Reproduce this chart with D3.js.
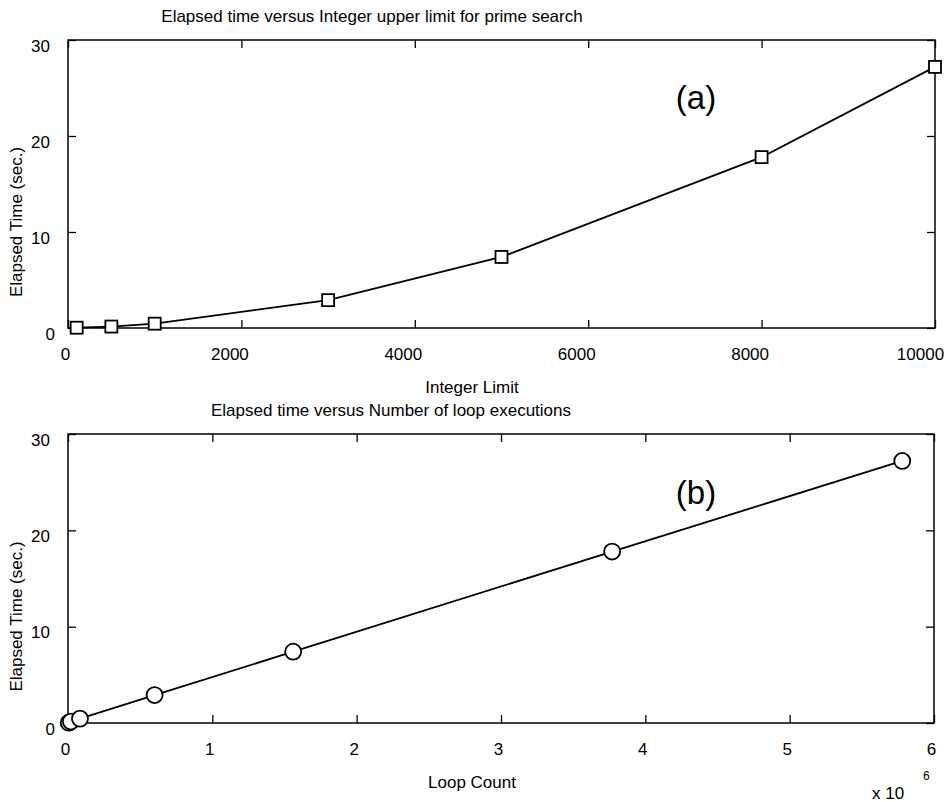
<!DOCTYPE html>
<html lang="en">
<head>
    <title>Elapsed time</title>
    <script src="https://d3js.org/d3.v7.min.js"></script>
    <style>
        body {
            margin: 0;
            background: #fff;
        }

        svg text {
            font-family: "Liberation Sans", Arial, sans-serif;
            fill: #000;
        }

        .frame {
            fill: none;
            stroke: #000;
            stroke-width: 1.5px;
        }

        .axis path {
            display: none;
        }

        .axis line {
            stroke: #000;
            stroke-width: 1.3px;
        }

        .curve {
            fill: none;
            stroke: #000;
            stroke-width: 1.8px;
        }

        .mark {
            fill: #fff;
            stroke: #000;
            stroke-width: 1.8px;
        }
    </style>
</head>
<body>
<div id="chart"></div>
<script>
    // values
    var integerLimit = [100, 500, 1000, 3000, 5000, 8000, 10000];
    var loopCount = [5000, 20000, 83000, 600000, 1560000, 3770000, 5780000];
    var elapsed = [0.03, 0.15, 0.45, 2.9, 7.4, 17.8, 27.2];

    var limitTicks = [0, 2000, 4000, 6000, 8000, 10000];
    var loopTicks = [0, 1e6, 2e6, 3e6, 4e6, 5e6, 6e6];
    var timeTicks = [0, 10, 20, 30];

    var WIDTH = 946;
    var HEIGHT = 802;
    var TICK = 8;

    var svg = d3.select("#chart")
        .append("svg")
        .attr("width", WIDTH)
        .attr("height", HEIGHT);

    function panel(opts) {
        var x = d3.scaleLinear()
            .domain(opts.xDomain)
            .range([opts.left, opts.right]);
        var y = d3.scaleLinear()
            .domain([0, 30])
            .range([opts.bottom, opts.top]);

        var g = svg.append("g");

        // ticks all point inward, on all four sides
        g.append("g")
            .attr("class", "axis")
            .attr("transform", "translate(0," + opts.bottom + ")")
            .call(d3.axisBottom(x).tickValues(opts.xTicks).tickSize(-TICK).tickFormat(opts.xFormat))
            .call(a => a.selectAll("text")
                .attr("y", 32)
                .attr("dy", null)
                .attr("dx", function () { return -3 * this.textContent.length; })
                .style("font-size", "17px"));

        g.append("g")
            .attr("class", "axis")
            .attr("transform", "translate(0," + opts.top + ")")
            .call(d3.axisTop(x).tickValues(opts.xTicks).tickSize(-TICK).tickFormat(""));

        g.append("g")
            .attr("class", "axis")
            .attr("transform", "translate(" + opts.left + ",0)")
            .call(d3.axisLeft(y).tickValues(timeTicks).tickSize(-TICK))
            .call(a => a.selectAll("text")
                .attr("x", function () { return -13 - 5 * (this.textContent.length - 1); })
                .attr("dy", null)
                .attr("y", 11)
                .style("font-size", "17px"));

        g.append("g")
            .attr("class", "axis")
            .attr("transform", "translate(" + opts.right + ",0)")
            .call(d3.axisRight(y).tickValues(timeTicks).tickSize(-TICK).tickFormat(""));

        g.selectAll(".axis text").attr("font-family", null);

        g.append("rect")
            .attr("class", "frame")
            .attr("x", opts.left)
            .attr("y", opts.top)
            .attr("width", opts.right - opts.left)
            .attr("height", opts.bottom - opts.top);

        var pts = opts.xs.map((v, i) => [v, elapsed[i]]);

        var line = d3.line()
            .x(d => x(d[0]))
            .y(d => y(d[1]));

        g.append("path")
            .attr("class", "curve")
            .attr("d", line(pts));

        if (opts.marker === "square") {
            g.selectAll(".mark")
                .data(pts)
                .enter().append("rect")
                .attr("class", "mark")
                .attr("x", d => x(d[0]) - 6)
                .attr("y", d => y(d[1]) - 6)
                .attr("width", 12)
                .attr("height", 12);
        } else {
            g.selectAll(".mark")
                .data(pts)
                .enter().append("circle")
                .attr("class", "mark")
                .attr("cx", d => x(d[0]))
                .attr("cy", d => y(d[1]))
                .attr("r", 8);
        }

        // titles and labels
        g.append("text")
            .attr("x", opts.titleX)
            .attr("y", opts.top - 18)
            .attr("text-anchor", "middle")
            .style("font-size", "17px")
            .text(opts.title);

        g.append("text")
            .attr("x", 472)
            .attr("y", opts.bottom + 65)
            .attr("text-anchor", "middle")
            .style("font-size", "17px")
            .text(opts.xLabel);

        g.append("text")
            .attr("transform", "translate(22," + ((opts.top + opts.bottom) / 2 + 38) + ") rotate(-90)")
            .attr("text-anchor", "middle")
            .style("font-size", "17px")
            .text("Elapsed Time (sec.)");

        g.append("text")
            .attr("x", 696)
            .attr("y", opts.top + opts.tagDy)
            .attr("text-anchor", "middle")
            .style("font-size", "33px")
            .text(opts.tag);

        return x;
    }

    panel({
        left: 68, right: 935, top: 40, bottom: 328,
        xDomain: [0, 10000],
        xTicks: limitTicks,
        xFormat: d3.format("d"),
        xs: integerLimit,
        marker: "square",
        title: "Elapsed time versus Integer upper limit for prime search",
        titleX: 372,
        xLabel: "Integer Limit",
        tag: "(a)",
        tagDy: 69
    });

    panel({
        left: 68, right: 934, top: 434, bottom: 723,
        xDomain: [0, 6e6],
        xTicks: loopTicks,
        xFormat: d => d3.format("d")(d / 1e6),
        xs: loopCount,
        marker: "circle",
        title: "Elapsed time versus Number of loop executions",
        titleX: 391,
        xLabel: "Loop Count",
        tag: "(b)",
        tagDy: 70
    });

    // exponent for the loop count axis
    svg.append("text")
        .attr("x", 872)
        .attr("y", 799)
        .style("font-size", "17px")
        .text("x 10");

    svg.append("text")
        .attr("x", 923)
        .attr("y", 780)
        .style("font-size", "12px")
        .text("6");
</script>
</body>
</html>
